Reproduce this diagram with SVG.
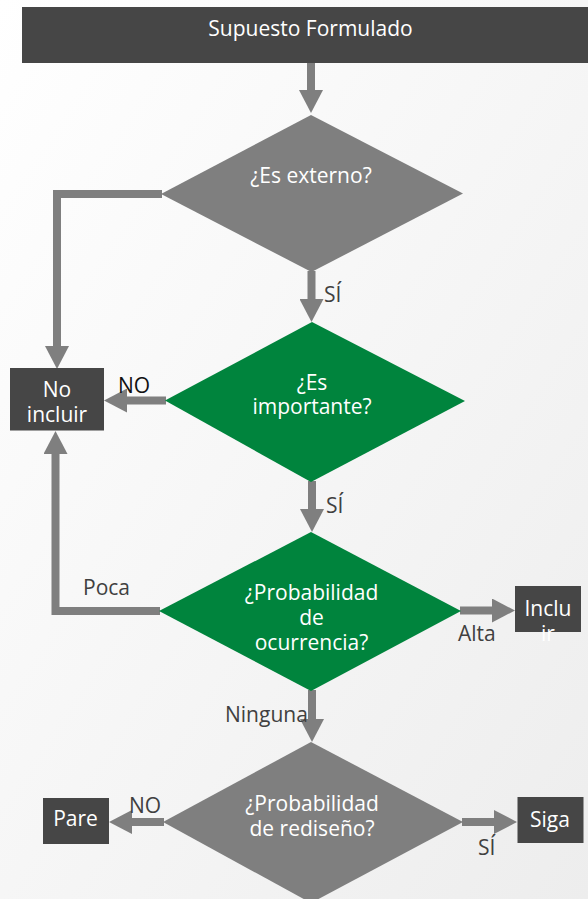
<svg xmlns="http://www.w3.org/2000/svg" width="588" height="899" viewBox="0 0 588 899">
  <defs>
    <linearGradient id="bg" x1="0" y1="0" x2="1" y2="1">
      <stop offset="0" stop-color="#ffffff"/>
      <stop offset="1" stop-color="#ededed"/>
    </linearGradient>
    <marker id="head" markerUnits="userSpaceOnUse" markerWidth="24" markerHeight="24" refX="0" refY="12" orient="auto" viewBox="0 0 24 24">
      <path d="M0,0 L23,12 L0,24 Z" fill="#7f7f7f"/>
    </marker>
    <style>
      text { font-family: "Open Sans", "Noto Sans", "Liberation Sans", sans-serif; font-size: 21px; }
      .box { fill: #464646; }
      .gray { fill: #7f7f7f; }
      .green { fill: #00843d; }
      .wt { fill: #ffffff; text-anchor: middle; }
      .lbl { fill: #404040; }
      .conn { fill: none; stroke: #7f7f7f; stroke-width: 8; stroke-linejoin: miter; marker-end: url(#head); }
    </style>
  </defs>
  <rect x="0" y="0" width="588" height="899" fill="url(#bg)"/>

  <g id="connectors">
    <line class="conn" x1="311" y1="63" x2="311" y2="90"/>
    <line class="conn" x1="311.5" y1="271" x2="311.5" y2="299"/>
    <line class="conn" x1="312" y1="481" x2="312" y2="509"/>
    <line class="conn" x1="312" y1="690" x2="312" y2="719"/>
    <polyline class="conn" points="162,194 57,194 57,346"/>
    <line class="conn" x1="166" y1="400.5" x2="127" y2="400.5"/>
    <polyline class="conn" points="160,611 55.5,611 55.5,454"/>
    <line class="conn" x1="460" y1="610.5" x2="492" y2="610.5"/>
    <line class="conn" x1="164" y1="822" x2="132" y2="822"/>
    <line class="conn" x1="462" y1="822" x2="494" y2="822"/>
    <text class="lbl" x="324" y="302">SÍ</text>
    <text class="lbl" x="326" y="513">SÍ</text>
    <text x="118" y="393" fill="#111111">NO</text>
    <text class="lbl" x="83" y="595">Poca</text>
    <text class="lbl" x="458" y="641">Alta</text>
    <text class="lbl" x="225" y="722">Ninguna</text>
    <text class="lbl" x="129" y="813">NO</text>
    <text class="lbl" x="478" y="855">SÍ</text>
  </g>

  <g id="supuesto">
    <rect class="box" x="22" y="7" width="566" height="56"/>
    <text class="wt" x="310.5" y="36">Supuesto Formulado</text>
  </g>

  <g id="externo">
    <polygon class="gray" points="311,115 463,193.5 311.5,272 161,194"/>
    <text class="wt" x="311" y="183">¿Es externo?</text>
  </g>

  <g id="importante">
    <polygon class="green" points="312,322 465,401 311,482 165,400.5"/>
    <text class="wt" x="312" y="390">¿Es<tspan x="312" dy="24">importante?</tspan></text>
  </g>

  <g id="no-incluir">
    <rect class="box" x="10" y="368" width="94" height="62.5"/>
    <text class="wt" x="57" y="397">No<tspan x="57" dy="25">incluir</tspan></text>
  </g>

  <g id="probabilidad-ocurrencia">
    <polygon class="green" points="311,532 461,611 311,691 159,611"/>
    <text class="wt" x="311.5" y="600">¿Probabilidad<tspan x="311.5" dy="25">de</tspan><tspan x="311.5" dy="25">ocurrencia?</tspan></text>
  </g>

  <g id="incluir">
    <rect class="box" x="515" y="586" width="66" height="46"/>
    <text class="wt" x="548" y="616">Inclu<tspan x="548" dy="25">ir</tspan></text>
  </g>

  <g id="probabilidad-rediseno">
    <polygon class="gray" points="311,742 463,822 311,903 163,822"/>
    <text class="wt" x="312" y="811">¿Probabilidad<tspan x="312" dy="25">de rediseño?</tspan></text>
  </g>

  <g id="pare">
    <rect class="box" x="43" y="798" width="66" height="46"/>
    <text class="wt" x="75.5" y="826">Pare</text>
  </g>

  <g id="siga">
    <rect class="box" x="517.5" y="797" width="66" height="46"/>
    <text class="wt" x="550" y="827">Siga</text>
  </g>
</svg>
